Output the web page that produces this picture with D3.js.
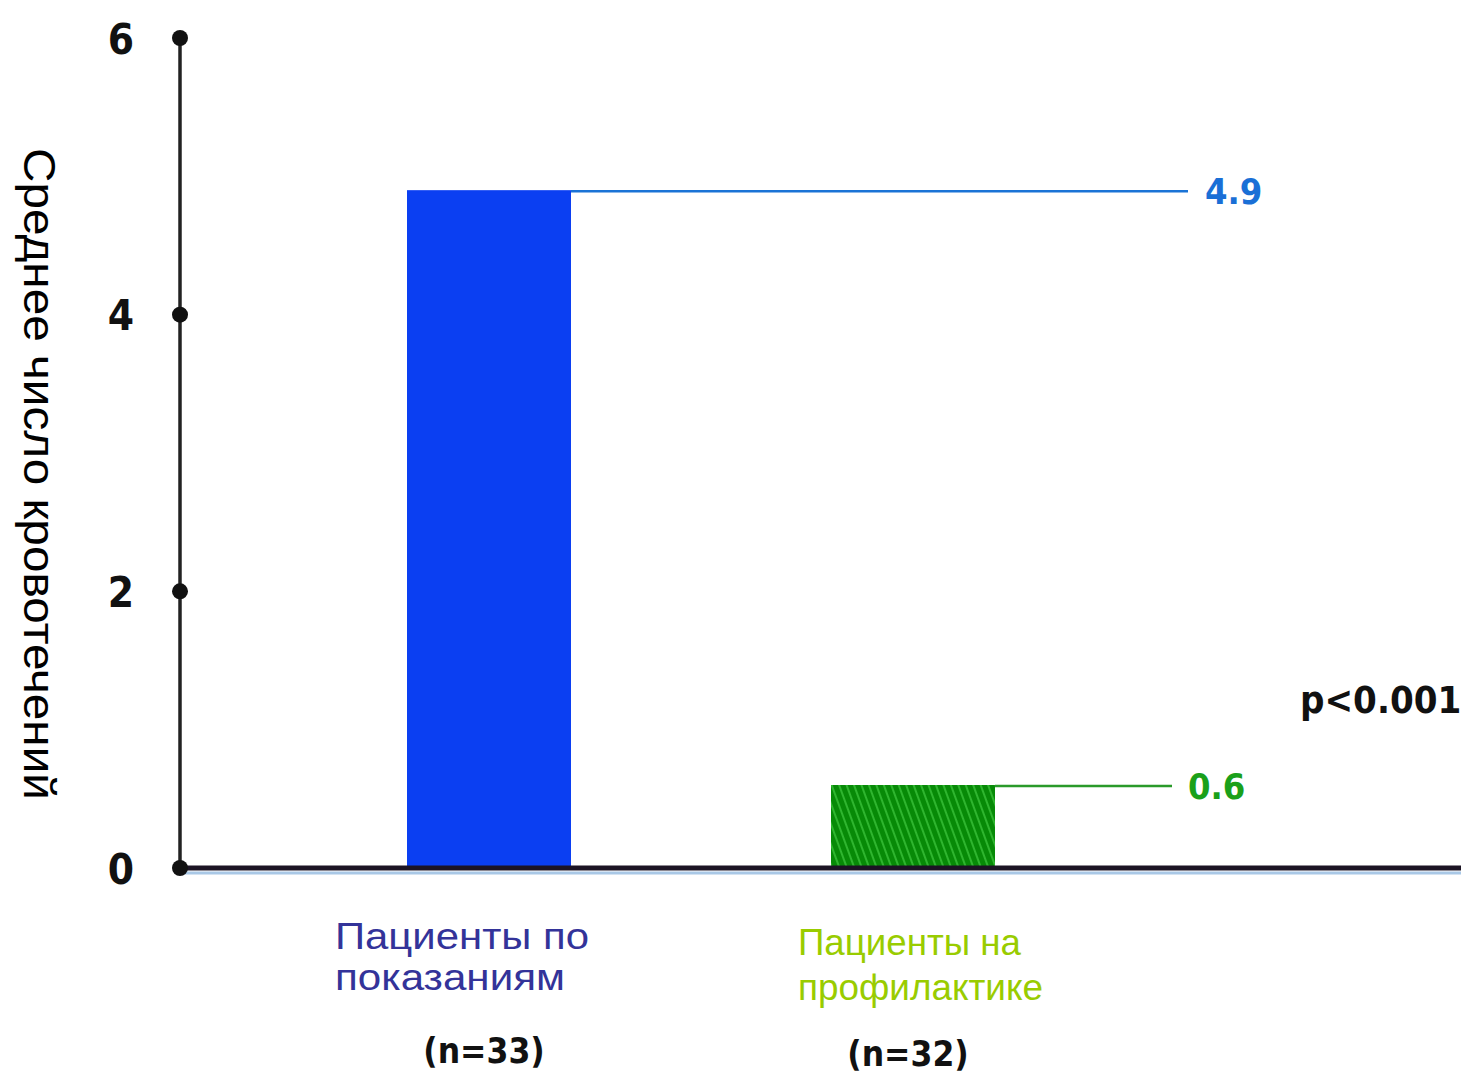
<!DOCTYPE html>
<html><head><meta charset="utf-8">
<script src="https://cdn.jsdelivr.net/npm/d3@7"></script>
<style>body{margin:0;background:#fff}svg{display:block}</style>
</head><body>
<svg id="c" width="1461" height="1081"></svg>
<script>
const categories = ["Пациенты по показаниям", "Пациенты на профилактике"];
const categoryLines = [["Пациенты по", "показаниям"], ["Пациенты на", "профилактике"]];
const sampleSizes = ["(n=33)", "(n=32)"];
const values = [4.9, 0.6];
const valueLabels = ["4.9", "0.6"];
const yTicks = [0, 2, 4, 6];
const yTitle = "Среднее число кровотечений";
const pText = "p<0.001";

const svg = d3.select("#c");
const defs = svg.append("defs");
const pat = defs.append("pattern").attr("id","hatch").attr("patternUnits","userSpaceOnUse")
  .attr("width",7).attr("height",7).attr("patternTransform","rotate(-20)");
pat.append("rect").attr("width",7).attr("height",7).attr("fill","#078a07");
pat.append("line").attr("x1",2).attr("y1",0).attr("x2",2).attr("y2",7).attr("stroke","#2fb52f").attr("stroke-width",2);

const y = d3.scaleLinear().domain([0,6]).range([868,38]);
const x = d3.scalePoint().domain(categories).range([489,913]);
const barW = 164;
const fills = ["#0b3ff2","url(#hatch)"];
const lineCols = ["#1a73d6","#2a9a2a"];
const labelCols = ["#1a6fd6","#1aa01a"];
const catCols = ["#333399","#99cc00"];
const lineEnds = [1188,1172];
const labelX = [1205,1188];

// bars
svg.selectAll("rect.bar").data(values).join("rect").attr("class","bar")
  .attr("x",(d,i)=>x(categories[i])-barW/2).attr("width",barW)
  .attr("y",d=>y(d)).attr("height",d=>y(0)-y(d)).attr("fill",(d,i)=>fills[i]);

// leader lines
svg.selectAll("line.lead").data(values).join("line").attr("class","lead")
  .attr("x1",(d,i)=>x(categories[i])+barW/2).attr("x2",(d,i)=>lineEnds[i])
  .attr("y1",d=>y(d)+1).attr("y2",d=>y(d)+1)
  .attr("stroke",(d,i)=>lineCols[i]).attr("stroke-width",2.5);
svg.selectAll("text.val").data(values).join("text").attr("class","val")
  .attr("x",(d,i)=>labelX[i]).attr("y",d=>y(d)+14)
  .attr("fill",(d,i)=>labelCols[i])
  .style("font-family","'DejaVu Sans Condensed','DejaVu Sans',sans-serif").style("font-weight","bold").style("font-size","36px")
  .text((d,i)=>valueLabels[i]);

// baseline
svg.append("line").attr("x1",180).attr("x2",1461).attr("y1",y(0)+5).attr("y2",y(0)+5)
  .attr("stroke","#a9c8e6").attr("stroke-width",3);
svg.append("line").attr("x1",180).attr("x2",1461).attr("y1",y(0)).attr("y2",y(0))
  .attr("stroke","#1c1424").attr("stroke-width",5);

// y axis
const ax = svg.append("g").attr("transform","translate(180,0)")
  .call(d3.axisLeft(y).tickValues(yTicks).tickSize(0).tickPadding(46).tickFormat(d3.format("d")));
ax.select(".domain").remove();
ax.append("line").attr("x1",0).attr("x2",0).attr("y1",y(6)).attr("y2",y(0))
  .attr("stroke","#222").attr("stroke-width",3.5);
ax.selectAll(".tick text").attr("fill","#111")
  .style("font-family","'DejaVu Sans Condensed','DejaVu Sans',sans-serif").style("font-weight","bold").style("font-size","42px")
  .attr("dy","0.36em");
ax.selectAll("circle.dot").data(yTicks).join("circle").attr("class","dot")
  .attr("cx",0).attr("cy",d=>y(d)).attr("r",8).attr("fill","#111");

// y title
svg.append("text").attr("transform","translate(24,148) rotate(90)")
  .style("font-family","'Liberation Sans',Arial,sans-serif").style("font-size","44px").attr("fill","#000")
  .attr("textLength",652).attr("lengthAdjust","spacingAndGlyphs")
  .text(yTitle);

// p value
svg.append("text").attr("x",1300).attr("y",713).attr("fill","#111")
  .style("font-family","'DejaVu Sans Condensed','DejaVu Sans',sans-serif").style("font-weight","bold").style("font-size","38px")
  .text(pText);

// category labels (one text element per line)
const catX = [335,798];
const catY = [[949,990],[955,1000]];
const catSize = [37,37];
const catLen = [[254,230],[223,245]];
categoryLines.forEach((lines,i)=>{
  lines.forEach((l,j)=>svg.append("text").attr("fill",catCols[i])
    .style("font-family","'Liberation Sans',Arial,sans-serif").style("font-size",catSize[i]+"px")
    .attr("x",catX[i]).attr("y",catY[i][j])
    .attr("textLength",catLen[i][j]).attr("lengthAdjust","spacingAndGlyphs")
    .text(l));
});
svg.selectAll("text.n").data(sampleSizes).join("text").attr("class","n")
  .attr("x",(d,i)=>x(categories[i])-5).attr("y",(d,i)=>[1063,1066][i])
  .attr("text-anchor","middle").attr("fill","#111")
  .style("font-family","'DejaVu Sans Condensed','DejaVu Sans',sans-serif").style("font-weight","bold").style("font-size","35px")
  .text(d=>d);
</script>
</body></html>
